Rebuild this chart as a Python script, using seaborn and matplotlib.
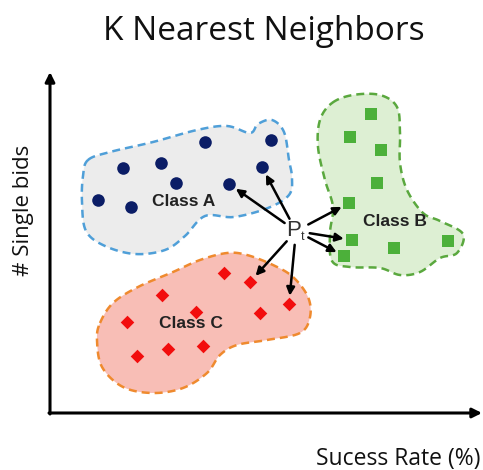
import numpy as np
import pandas as pd
import matplotlib
matplotlib.use("Agg")
import matplotlib.pyplot as plt
from matplotlib.patches import Polygon
import seaborn as sns

# points of each class (drawing units = pixels of the 483x470 picture, y down)
class_a_x = [205, 271, 123, 161, 262, 176, 229, 98, 131]
class_a_y = [142, 140, 168, 163, 167, 183, 184, 200, 207]
class_b_x = [371, 350, 381, 377, 349, 352, 344, 394, 448]
class_b_y = [114, 137, 150, 183, 203, 240, 256, 248, 241]
class_c_x = [224, 250, 162, 289, 196, 260, 127, 137, 168, 203]
class_c_y = [273, 282, 295, 304, 312, 313, 322, 356, 349, 346]

# query point and its nearest neighbours (class, index)
pt = (296, 231)
neighbours = [("A", 6), ("A", 4), ("B", 4), ("B", 5), ("B", 6), ("C", 1), ("C", 3)]

# blob outlines
blob_a_x = [88, 110, 153, 197, 227, 250, 258, 272, 284, 289, 292, 289, 268, 234, 205, 185, 165, 135, 105, 86, 82, 83]
blob_a_y = [160, 152, 142, 130, 126, 133, 124, 120, 132, 160, 178, 195, 208, 217, 216, 236, 250, 254, 246, 231, 202, 176]
blob_b_x = [332, 353, 380, 397, 400, 400, 407, 423, 440, 463, 457, 440, 420, 400, 380, 350, 332, 330, 333, 325, 318, 320]
blob_b_y = [103, 95, 95, 107, 133, 163, 190, 213, 221, 234, 253, 258, 272, 275, 268, 267, 261, 233, 207, 180, 147, 120]
blob_c_x = [100, 113, 138, 173, 200, 227, 247, 273, 293, 308, 310, 300, 267, 237, 220, 207, 183, 153, 123, 102, 97]
blob_c_y = [323, 303, 287, 272, 260, 253, 255, 265, 277, 297, 317, 333, 340, 345, 355, 373, 388, 393, 387, 367, 340]

class_names = ["Class A", "Class B", "Class C"]
label_x = [184, 395, 191]
label_y = [201, 222, 324]

title = "K Nearest Neighbors"
x_label = "Sucess Rate (%)"
y_label = "# Single bids"


def smooth_closed(xs, ys, n=10):
    p = np.column_stack([xs, ys]).astype(float)
    out = []
    N = len(p)
    for i in range(N):
        p0, p1, p2, p3 = p[i - 1], p[i], p[(i + 1) % N], p[(i + 2) % N]
        for t in np.linspace(0, 1, n, endpoint=False):
            out.append(0.5 * (2 * p1 + (-p0 + p2) * t
                              + (2 * p0 - 5 * p1 + 4 * p2 - p3) * t ** 2
                              + (-p0 + 3 * p1 - 3 * p2 + p3) * t ** 3))
    return np.array(out)


sns.set_style("white")
plt.rcParams["font.family"] = ["Open Sans", "DejaVu Sans"]

fig = plt.figure(figsize=(4.83, 4.70), dpi=100)
ax = fig.add_axes([0, 0, 1, 1])
ax.set_xlim(0, 483)
ax.set_ylim(470, 0)
ax.axis("off")

# blobs
blobs = [(blob_a_x, blob_a_y, "#ececec", "#4f9fd8"),
         (blob_b_x, blob_b_y, "#ddefd3", "#5aa83e"),
         (blob_c_x, blob_c_y, "#f8beb6", "#ef8a2e")]
for bx, by, fc, ec in blobs:
    verts = smooth_closed(bx, by)
    ax.add_patch(Polygon(verts, closed=True, facecolor=fc, edgecolor="none", zorder=1))
    ax.add_patch(Polygon(verts, closed=True, fill=False, edgecolor=ec, lw=1.8,
                         linestyle=(0, (3.2, 2.0)), zorder=2))

# points
df = pd.DataFrame({
    "x": class_a_x + class_b_x + class_c_x,
    "y": class_a_y + class_b_y + class_c_y,
    "cls": ["A"] * len(class_a_x) + ["B"] * len(class_b_x) + ["C"] * len(class_c_x),
})
sizes = {"A": 82, "B": 66, "C": 48}
markers = {"A": "o", "B": "s", "C": "D"}
palette = {"A": "#0b1d66", "B": "#4cb03a", "C": "#f20d0d"}
for c in ["A", "B", "C"]:
    sub = df[df["cls"] == c]
    sns.scatterplot(data=sub, x="x", y="y", marker=markers[c], color=palette[c],
                    s=sizes[c], linewidth=0, ax=ax, zorder=3, legend=False)

# class labels
for name, lx, ly in zip(class_names, label_x, label_y):
    ax.text(lx, ly, name, ha="center", va="center", fontsize=12.5, fontweight="bold",
            family="Liberation Sans", color="#222222", zorder=4)

# arrows from query point to neighbours
pts = {"A": (class_a_x, class_a_y), "B": (class_b_x, class_b_y), "C": (class_c_x, class_c_y)}
for c, i in neighbours:
    nx, ny = pts[c][0][i], pts[c][1][i]
    ax.annotate("", xy=(nx, ny), xytext=pt,
                arrowprops=dict(arrowstyle="-|>", color="black", lw=1.8,
                                shrinkA=10, shrinkB=6, mutation_scale=12), zorder=5)

ax.text(pt[0] - 2, pt[1], "P", ha="center", va="center", fontsize=16,
        color="#333333", family="Liberation Sans", zorder=6)
ax.text(pt[0] + 7, pt[1] + 6, "t", ha="center", va="center", fontsize=9,
        color="#333333", family="Liberation Sans", zorder=6)

# axis arrows
origin = (50, 413)
ax.annotate("", xy=(50, 72), xytext=(origin[0], origin[1] + 1),
            arrowprops=dict(arrowstyle="-|>", color="black", lw=2.2,
                            shrinkA=0, shrinkB=0, mutation_scale=14))
ax.annotate("", xy=(482, 413), xytext=(origin[0] - 1, origin[1]),
            arrowprops=dict(arrowstyle="-|>", color="black", lw=2.2,
                            shrinkA=0, shrinkB=0, mutation_scale=14))

# texts
ax.text(264, 40, title, ha="center", va="baseline", fontsize=24, color="#111111")
ax.text(480, 465, x_label, ha="right", va="baseline", fontsize=16.5, color="#111111")
ax.text(24, 210, y_label, ha="center", va="center", rotation=90, fontsize=16,
        color="#111111")

fig.savefig("out.png", dpi=100)
